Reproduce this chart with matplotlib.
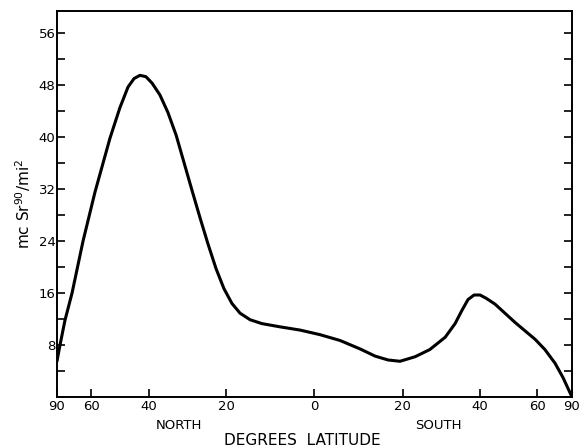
import matplotlib
matplotlib.use("Agg")
import matplotlib.pyplot as plt
import numpy as np

# latitude in degrees, north positive / south negative
lat = [90, 81.2, 75.7, 70.3, 64.0, 58.5, 52.6, 49.1, 46.4, 44.5, 42.7, 40.9,
       39.1, 36.9, 34.7, 32.5, 30.5, 28.4, 26.4, 24.4, 22.5, 20.6, 18.7,
       16.8, 14.5, 11.8, 7.7, 3.2, -1.2, -5.7, -10.2, -13.6, -16.6, -19.4,
       -23.0, -26.6, -30.5, -33.1, -34.9, -36.6, -38.3, -40.0, -41.8, -44.5,
       -47.7, -51.1, -54.8, -58.9, -63.5, -69.1, -74.8, -90]
sr90 = [5.5, 8.0, 11.8, 16.0, 24.0, 31.5, 39.8, 44.5, 47.7, 49.0, 49.5, 49.3,
        48.3, 46.5, 43.8, 40.3, 36.2, 31.8, 27.6, 23.5, 19.8, 16.7, 14.4,
        12.9, 11.9, 11.3, 10.8, 10.3, 9.6, 8.7, 7.4, 6.3, 5.7, 5.5,
        6.2, 7.3, 9.2, 11.3, 13.3, 15.0, 15.7, 15.7, 15.2, 14.3,
        12.9, 11.5, 10.2, 8.9, 7.3, 5.2, 3.0, 0.0]

tick_lat = [90, 60, 40, 20, 0, -20, -40, -60, -90]
tick_text = ["90", "60", "40", "20", "0", "20", "40", "60", "90"]
y_labels = [8, 16, 24, 32, 40, 48, 56]

plt.rcParams['font.family'] = ['DejaVu Sans']

fig = plt.figure(figsize=(5.82, 4.48), dpi=100)
ax = fig.add_axes([0.0979, 0.1138, 0.8849, 0.8616])

# area-weighted latitude axis (sine scale), north on the left
x = -np.sin(np.radians(lat))
ax.plot(x, sr90, color="black", lw=2.2, solid_capstyle="round",
        solid_joinstyle="round")

ax.set_xlim(-1, 1)
ax.set_ylim(0, 59.4)

ax.set_xticks(-np.sin(np.radians(tick_lat)))
ax.set_xticklabels(tick_text, fontsize=9.5)
ax.set_yticks(np.arange(0, 57, 4))
ax.set_yticklabels([str(v) if v in y_labels else "" for v in range(0, 57, 4)],
                   fontsize=9.5)
ax.tick_params(axis="x", direction="in", length=6, width=1.2, pad=2, top=False)
ax.tick_params(axis="y", direction="in", length=6, width=1.2, pad=1,
               right=True)

for s in ax.spines.values():
    s.set_linewidth(1.4)

ax.set_ylabel(r"mc Sr$^{90}$/mi$^2$", fontsize=11, labelpad=4)
fig.text(0.308, 0.051, "NORTH", ha="center", va="center", fontsize=9.5)
fig.text(0.753, 0.051, "SOUTH", ha="center", va="center", fontsize=9.5)
fig.text(0.52, 0.016, "DEGREES  LATITUDE", ha="center", va="center",
         fontsize=11)

fig.savefig("out.png", dpi=100)
